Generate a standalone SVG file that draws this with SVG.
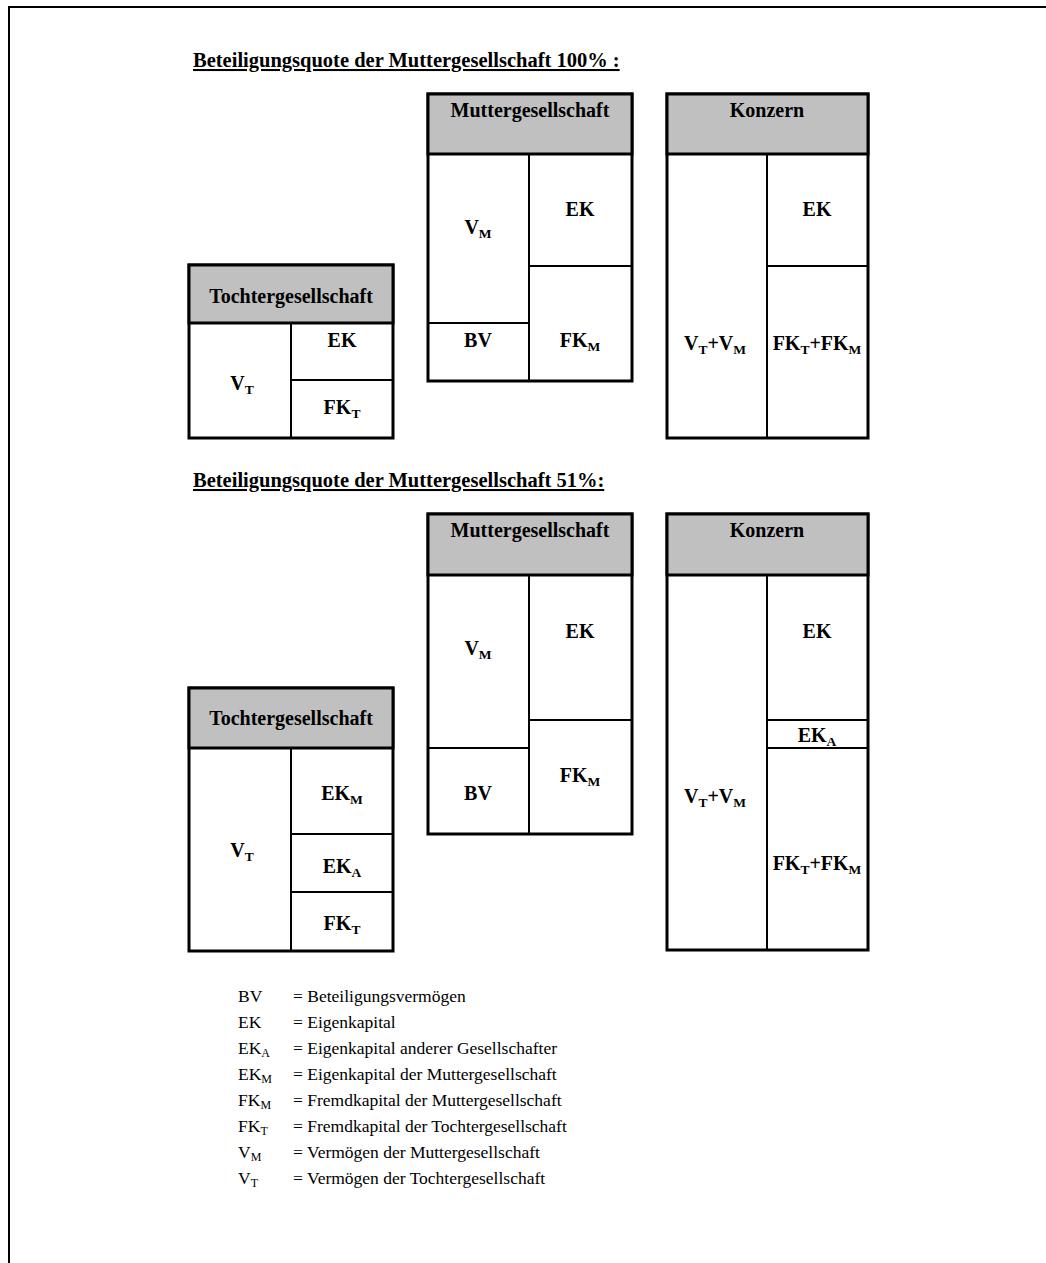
<svg xmlns="http://www.w3.org/2000/svg" width="1046" height="1263" viewBox="0 0 1046 1263">
<style>
.frame{fill:none;stroke:#000;stroke-width:2}
.box{fill:#fff;stroke:#000;stroke-width:3}
.hdr{fill:#c0c0c0;stroke:#000;stroke-width:3}
.ln{stroke:#000;stroke-width:2;fill:none}
text{font-family:"Liberation Serif","Times New Roman",serif;fill:#000}
.b{font-weight:bold;font-size:20px;text-anchor:middle}
.title{font-weight:bold;font-size:20.5px;text-decoration:underline}
.s{font-size:13.5px}
.lg{font-size:17.5px}
.ls{font-size:12px}
</style>
<rect width="1046" height="1263" fill="#fff"/>
<path class="frame" d="M9,1263 V7 H1046"/>

<text class="title" x="193" y="67">Beteiligungsquote der Muttergesellschaft 100% :</text>
<text class="title" x="193" y="487">Beteiligungsquote der Muttergesellschaft 51%:</text>

<g id="tochter1">
<rect class="box" x="189" y="265" width="204" height="173"/>
<rect class="hdr" x="189" y="265" width="204" height="58"/>
<line class="ln" x1="291" y1="323" x2="291" y2="438"/>
<line class="ln" x1="291" y1="380" x2="393" y2="380"/>
<text class="b" x="291" y="303">Tochtergesellschaft</text>
<text class="b" x="342" y="347">EK</text>
<text class="b" x="242" y="390">V<tspan class="s" dy="4">T</tspan></text>
<text class="b" x="342" y="414">FK<tspan class="s" dy="4">T</tspan></text>
</g>

<g id="mutter1">
<rect class="box" x="428" y="94" width="204" height="287"/>
<rect class="hdr" x="428" y="94" width="204" height="60"/>
<line class="ln" x1="529" y1="154" x2="529" y2="381"/>
<line class="ln" x1="529" y1="266" x2="632" y2="266"/>
<line class="ln" x1="428" y1="323" x2="529" y2="323"/>
<text class="b" x="530" y="117">Muttergesellschaft</text>
<text class="b" x="478" y="234">V<tspan class="s" dy="4">M</tspan></text>
<text class="b" x="580" y="216">EK</text>
<text class="b" x="478" y="347">BV</text>
<text class="b" x="580" y="347">FK<tspan class="s" dy="4">M</tspan></text>
</g>

<g id="konzern1">
<rect class="box" x="667" y="94" width="201" height="344"/>
<rect class="hdr" x="667" y="94" width="201" height="60"/>
<line class="ln" x1="767" y1="154" x2="767" y2="438"/>
<line class="ln" x1="767" y1="266" x2="868" y2="266"/>
<text class="b" x="767" y="117">Konzern</text>
<text class="b" x="817" y="216">EK</text>
<text class="b" x="715" y="350">V<tspan class="s" dy="4">T</tspan><tspan dy="-4">+V</tspan><tspan class="s" dy="4">M</tspan></text>
<text class="b" x="817" y="350">FK<tspan class="s" dy="4">T</tspan><tspan dy="-4">+FK</tspan><tspan class="s" dy="4">M</tspan></text>
</g>

<g id="tochter2">
<rect class="box" x="189" y="688" width="204" height="263"/>
<rect class="hdr" x="189" y="688" width="204" height="60"/>
<line class="ln" x1="291" y1="748" x2="291" y2="951"/>
<line class="ln" x1="291" y1="834" x2="393" y2="834"/>
<line class="ln" x1="291" y1="892" x2="393" y2="892"/>
<text class="b" x="291" y="725">Tochtergesellschaft</text>
<text class="b" x="342" y="800">EK<tspan class="s" dy="4">M</tspan></text>
<text class="b" x="242" y="857">V<tspan class="s" dy="4">T</tspan></text>
<text class="b" x="342" y="873">EK<tspan class="s" dy="4">A</tspan></text>
<text class="b" x="342" y="930">FK<tspan class="s" dy="4">T</tspan></text>
</g>

<g id="mutter2">
<rect class="box" x="428" y="514" width="204" height="320"/>
<rect class="hdr" x="428" y="514" width="204" height="61"/>
<line class="ln" x1="529" y1="575" x2="529" y2="834"/>
<line class="ln" x1="529" y1="720" x2="632" y2="720"/>
<line class="ln" x1="428" y1="748" x2="529" y2="748"/>
<text class="b" x="530" y="537">Muttergesellschaft</text>
<text class="b" x="478" y="655">V<tspan class="s" dy="4">M</tspan></text>
<text class="b" x="580" y="638">EK</text>
<text class="b" x="478" y="800">BV</text>
<text class="b" x="580" y="782">FK<tspan class="s" dy="4">M</tspan></text>
</g>

<g id="konzern2">
<rect class="box" x="667" y="514" width="201" height="436"/>
<rect class="hdr" x="667" y="514" width="201" height="61"/>
<line class="ln" x1="767" y1="575" x2="767" y2="950"/>
<line class="ln" x1="767" y1="720" x2="868" y2="720"/>
<line class="ln" x1="767" y1="748" x2="868" y2="748"/>
<text class="b" x="767" y="537">Konzern</text>
<text class="b" x="817" y="638">EK</text>
<text class="b" x="817" y="742">EK<tspan class="s" dy="4">A</tspan></text>
<text class="b" x="715" y="803">V<tspan class="s" dy="4">T</tspan><tspan dy="-4">+V</tspan><tspan class="s" dy="4">M</tspan></text>
<text class="b" x="817" y="870">FK<tspan class="s" dy="4">T</tspan><tspan dy="-4">+FK</tspan><tspan class="s" dy="4">M</tspan></text>
</g>

<g id="legend">
<text class="lg" x="238" y="1002">BV</text>
<text class="lg" x="293" y="1002">= Beteiligungsvermögen</text>
<text class="lg" x="238" y="1028">EK</text>
<text class="lg" x="293" y="1028">= Eigenkapital</text>
<text class="lg" x="238" y="1054">EK<tspan class="ls" dy="3">A</tspan></text>
<text class="lg" x="293" y="1054">= Eigenkapital anderer Gesellschafter</text>
<text class="lg" x="238" y="1080">EK<tspan class="ls" dy="3">M</tspan></text>
<text class="lg" x="293" y="1080">= Eigenkapital der Muttergesellschaft</text>
<text class="lg" x="238" y="1106">FK<tspan class="ls" dy="3">M</tspan></text>
<text class="lg" x="293" y="1106">= Fremdkapital der Muttergesellschaft</text>
<text class="lg" x="238" y="1132">FK<tspan class="ls" dy="3">T</tspan></text>
<text class="lg" x="293" y="1132">= Fremdkapital der Tochtergesellschaft</text>
<text class="lg" x="238" y="1158">V<tspan class="ls" dy="3">M</tspan></text>
<text class="lg" x="293" y="1158">= Vermögen der Muttergesellschaft</text>
<text class="lg" x="238" y="1184">V<tspan class="ls" dy="3">T</tspan></text>
<text class="lg" x="293" y="1184">= Vermögen der Tochtergesellschaft</text>
</g>
</svg>
